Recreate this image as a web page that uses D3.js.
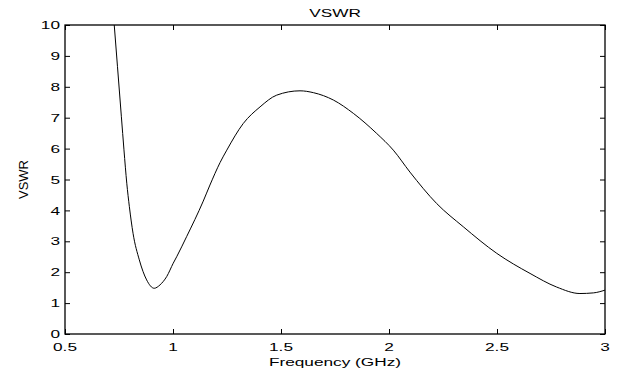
<!DOCTYPE html>
<html><head><meta charset="utf-8">
<script src="https://cdn.jsdelivr.net/npm/d3@7"></script>
<style>body{margin:0;background:#fff}svg{display:block}text{font-family:"Liberation Sans",Arial,sans-serif;fill:#000}</style>
</head><body>
<script>
const freq = [0.728, 0.743, 0.761, 0.773, 0.786, 0.798, 0.815, 0.844, 0.878, 0.913, 0.940, 0.971, 1.001, 1.017, 1.063, 1.140, 1.171, 1.218, 1.249, 1.325, 1.403, 1.480, 1.588, 1.650, 1.743, 1.835, 1.943, 2.020, 2.097, 2.221, 2.344, 2.499, 2.653, 2.776, 2.884, 2.946, 3.0];
const vswr = [10, 8.65, 7.03, 5.96, 4.88, 4.12, 3.26, 2.40, 1.75, 1.48, 1.59, 1.86, 2.29, 2.5, 3.15, 4.30, 4.82, 5.55, 5.95, 6.81, 7.35, 7.73, 7.87, 7.81, 7.57, 7.14, 6.49, 5.95, 5.24, 4.22, 3.47, 2.61, 1.96, 1.52, 1.31, 1.33, 1.42];
const xTicks = [0.5, 1, 1.5, 2, 2.5, 3];
const yTicks = [0,1,2,3,4,5,6,7,8,9,10];
const title = "VSWR", xLabel = "Frequency (GHz)", yLabel = "VSWR";

const W = 618, H = 377, L = 65, R = 605, T = 25, B = 334;
const SX = 1.5, FS = 11.5;
const svg = d3.select("body").append("svg").attr("width", W).attr("height", H);
const x = d3.scaleLinear().domain([0.5, 3]).range([L, R]);
const y = d3.scaleLinear().domain([0, 10]).range([B, T]);

svg.append("clipPath").attr("id","c").append("rect").attr("x",L).attr("y",T).attr("width",R-L).attr("height",B-T);

function txt(px, py, s, anchor, size, sx, dy) {
  return svg.append("text").attr("transform", `translate(${px},${py}) scale(${sx},1)`)
    .attr("text-anchor", anchor).attr("font-size", size).attr("dy", dy || 0).text(s);
}

const tk = 5;
const gBottom = svg.append("g").attr("transform",`translate(0,${B})`).call(d3.axisBottom(x).tickValues(xTicks).tickFormat("").tickSizeInner(-tk).tickSizeOuter(0));
const gTop = svg.append("g").attr("transform",`translate(0,${T})`).call(d3.axisTop(x).tickValues(xTicks).tickFormat("").tickSizeInner(-tk).tickSizeOuter(0));
const gLeft = svg.append("g").attr("transform",`translate(${L},0)`).call(d3.axisLeft(y).tickValues(yTicks).tickFormat("").tickSizeInner(-tk).tickSizeOuter(0));
const gRight = svg.append("g").attr("transform",`translate(${R},0)`).call(d3.axisRight(y).tickValues(yTicks).tickFormat("").tickSizeInner(-tk).tickSizeOuter(0));
[gBottom, gTop, gLeft, gRight].forEach(g => {
  g.select(".domain").remove();
  g.selectAll("line").attr("stroke","#000");
  g.selectAll("text").remove();
});
svg.append("rect").attr("x",L).attr("y",T).attr("width",R-L).attr("height",B-T).attr("fill","none").attr("stroke","#000").attr("stroke-width",1.3);

xTicks.forEach(t => txt(x(t), 351, String(t), "middle", FS, SX));
yTicks.forEach(t => txt(60, y(t), String(t), "end", FS, SX, "0.36em"));

const data = freq.map((f,i)=>[f, vswr[i]]);
svg.append("path").datum(data).attr("clip-path","url(#c)")
  .attr("fill","none").attr("stroke","#000").attr("stroke-width",1)
  .attr("d", d3.line().x(d=>x(d[0])).y(d=>y(d[1])).curve(d3.curveMonotoneX));

txt((L+R)/2, 17, title, "middle", FS, SX);
txt((L+R)/2, 366, xLabel, "middle", FS, SX);
svg.append("text").attr("transform",`translate(28,${(T+B)/2}) rotate(-90)`).attr("text-anchor","middle").attr("font-size",13).text(yLabel);
</script>
</body></html>
